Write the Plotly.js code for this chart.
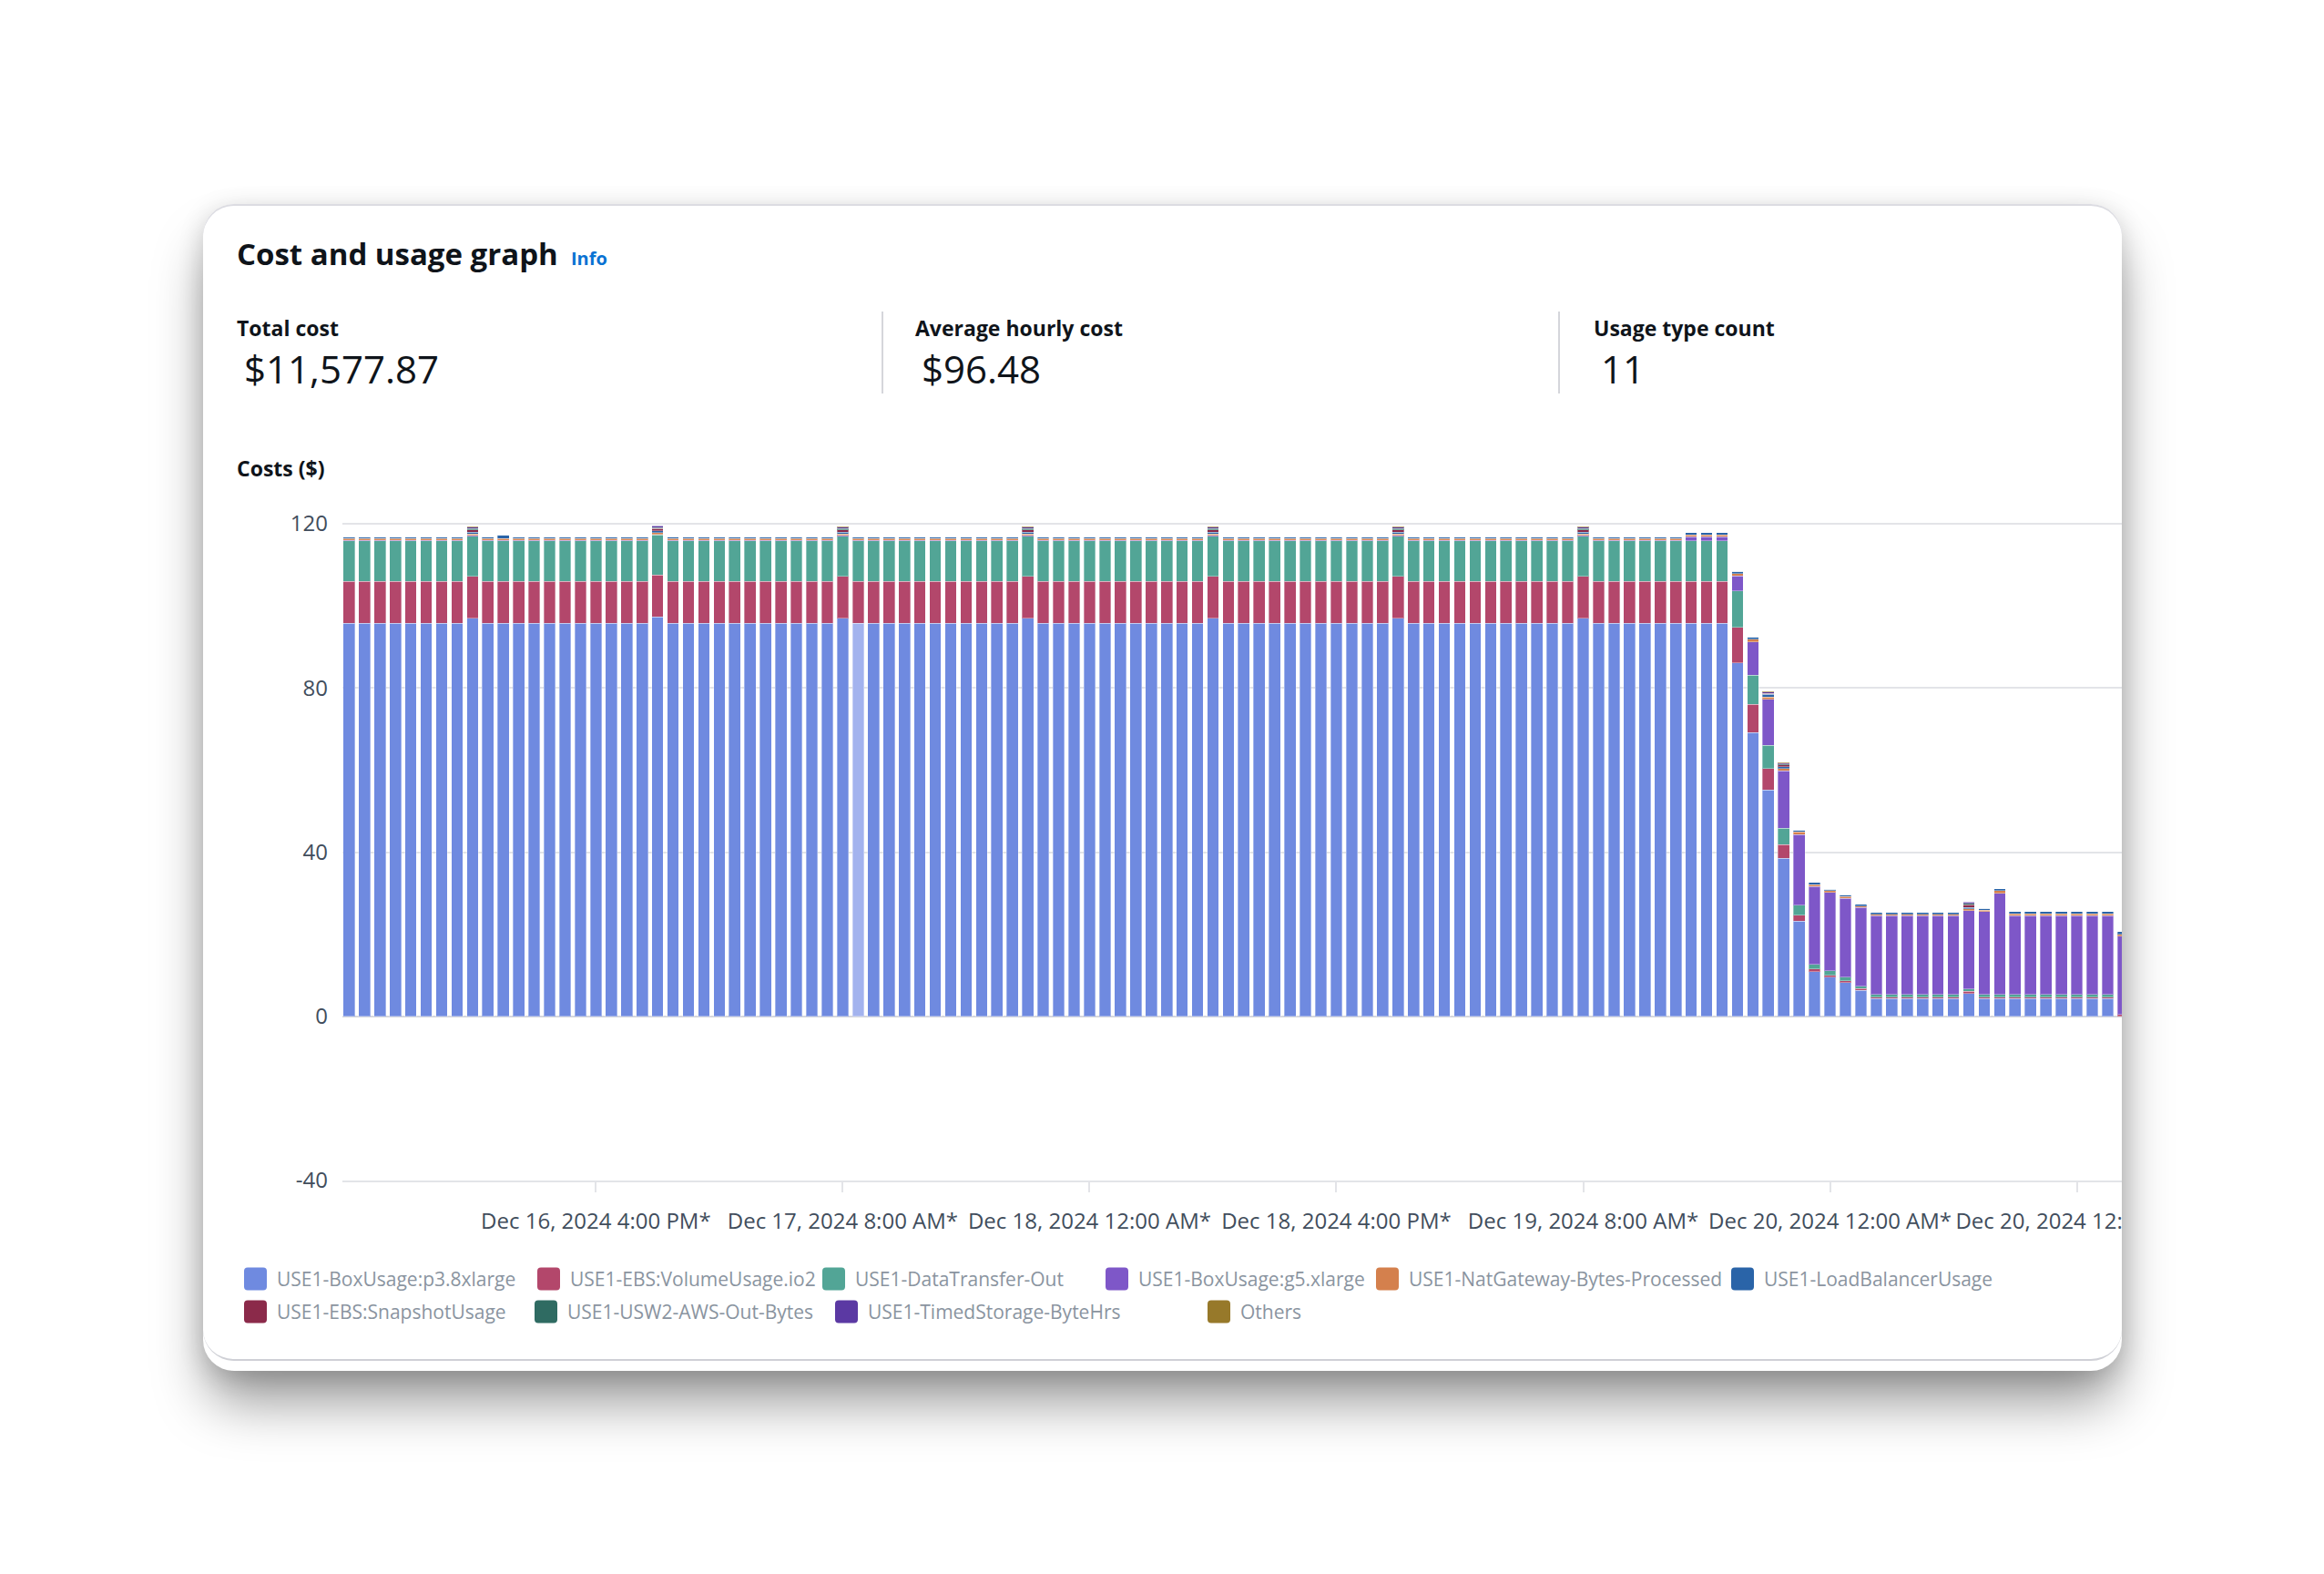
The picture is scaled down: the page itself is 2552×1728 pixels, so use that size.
<!DOCTYPE html>
<html>
<head>
<meta charset="utf-8">
<script src="https://cdn.plot.ly/plotly-3.0.1.min.js"></script>
<style>
html,body{margin:0;padding:0;background:#ffffff;width:2552px;height:1728px;overflow:hidden;font-family:"Open Sans",sans-serif;}
#card{position:absolute;left:223px;top:224px;width:2107px;height:1281px;background:#fff;border-radius:34px;overflow:hidden;
 box-shadow:0 40px 60px -6px rgba(0,0,0,0.40),0 6px 28px rgba(0,0,0,0.16),inset 0 2px 0 #dcdce2;}
#inner{position:absolute;left:0;right:0;top:0;bottom:11px;border-bottom:2px solid #cfd0d6;border-radius:0 0 34px 34px;}
.t{position:absolute;white-space:nowrap;color:#0f141a;line-height:normal;}
.div{position:absolute;top:118px;width:2px;height:90px;background:#d5d6db;}
#chart{position:absolute;left:0;top:0;width:2107px;height:1281px;}
</style>
</head>
<body>
<div id="card">
  <div id="inner"></div>
  <div class="t" style="left:37px;top:31.7px;font-size:33px;font-weight:700;">Cost and usage graph</div>
  <div class="t" style="left:404px;top:45.6px;font-size:20px;font-weight:700;color:#0972d3;">Info</div>
  <div class="t" style="left:37px;top:120.4px;font-size:23px;font-weight:700;">Total cost</div>
  <div class="t" style="left:45px;top:152.1px;font-size:42px;font-weight:400;">$11,577.87</div>
  <div class="div" style="left:745px;"></div>
  <div class="t" style="left:782px;top:120.4px;font-size:23px;font-weight:700;">Average hourly cost</div>
  <div class="t" style="left:789px;top:152.1px;font-size:42px;font-weight:400;">$96.48</div>
  <div class="div" style="left:1488px;"></div>
  <div class="t" style="left:1527px;top:120.4px;font-size:23px;font-weight:700;">Usage type count</div>
  <div class="t" style="left:1535px;top:152.1px;font-size:42px;font-weight:400;">11</div>
  <div class="t" style="left:37px;top:274.4px;font-size:23px;font-weight:700;">Costs ($)</div>
  <div id="chart"></div>
</div>
<script>
// ---------- DATA ----------
const startHour = '2024-12-16T00:00:00';
const hourCount = 116; // hours visible in the picture

const seriesNames = [
  'USE1-BoxUsage:p3.8xlarge',
  'USE1-EBS:VolumeUsage.io2',
  'USE1-DataTransfer-Out',
  'USE1-BoxUsage:g5.xlarge',
  'USE1-NatGateway-Bytes-Processed',
  'USE1-LoadBalancerUsage',
  'USE1-EBS:SnapshotUsage',
  'USE1-USW2-AWS-Out-Bytes',
  'USE1-TimedStorage-ByteHrs',
  'Others'
];
const seriesColors = ['#6f8ae0','#b3476b','#52a596','#7e57c8','#d4804d','#2a64a8','#8b2a4a','#2f6b62','#5b39a3','#97792a'];

const s1 = [
  95.8,95.8,95.8,95.8,95.8,95.8,95.8,95.8,97.0,95.8,95.8,95.8,
  95.8,95.8,95.8,95.8,95.8,95.8,95.8,95.8,97.3,95.8,95.8,95.8,
  95.8,95.8,95.8,95.8,95.8,95.8,95.8,95.8,97.0,95.8,95.8,95.8,
  95.8,95.8,95.8,95.8,95.8,95.8,95.8,95.8,97.0,95.8,95.8,95.8,
  95.8,95.8,95.8,95.8,95.8,95.8,95.8,95.8,97.0,95.8,95.8,95.8,
  95.8,95.8,95.8,95.8,95.8,95.8,95.8,95.8,97.0,95.8,95.8,95.8,
  95.8,95.8,95.8,95.8,95.8,95.8,95.8,95.8,97.0,95.8,95.8,95.8,
  95.8,95.8,95.8,95.8,95.8,95.8,86.1,69.1,55.1,38.5,23.2,10.9,
  9.5,8.2,6.3,4.3,4.3,4.3,4.3,4.3,4.3,5.6,4.3,4.3,
  4.3,4.3,4.3,4.3,4.3,4.3,4.3,0
];
const s2 = [
  10.2,10.2,10.2,10.2,10.2,10.2,10.2,10.2,10.2,10.2,10.2,10.2,
  10.2,10.2,10.2,10.2,10.2,10.2,10.2,10.2,10.2,10.2,10.2,10.2,
  10.2,10.2,10.2,10.2,10.2,10.2,10.2,10.2,10.2,10.2,10.2,10.2,
  10.2,10.2,10.2,10.2,10.2,10.2,10.2,10.2,10.2,10.2,10.2,10.2,
  10.2,10.2,10.2,10.2,10.2,10.2,10.2,10.2,10.2,10.2,10.2,10.2,
  10.2,10.2,10.2,10.2,10.2,10.2,10.2,10.2,10.2,10.2,10.2,10.2,
  10.2,10.2,10.2,10.2,10.2,10.2,10.2,10.2,10.2,10.2,10.2,10.2,
  10.2,10.2,10.2,10.2,10.2,10.2,8.7,6.9,5.3,3.3,1.4,0.6,
  0.5,0.5,0.5,0.4,0.4,0.4,0.4,0.4,0.4,0.5,0.4,0.4,
  0.4,0.4,0.4,0.4,0.4,0.4,0.4,0.4
];
const s3 = [
  9.8,9.8,9.8,9.8,9.8,9.8,9.8,9.8,9.8,9.8,9.8,9.8,
  9.8,9.8,9.8,9.8,9.8,9.8,9.8,9.8,9.8,9.8,9.8,9.8,
  9.8,9.8,9.8,9.8,9.8,9.8,9.8,9.8,9.8,9.8,9.8,9.8,
  9.8,9.8,9.8,9.8,9.8,9.8,9.8,9.8,9.8,9.8,9.8,9.8,
  9.8,9.8,9.8,9.8,9.8,9.8,9.8,9.8,9.8,9.8,9.8,9.8,
  9.8,9.8,9.8,9.8,9.8,9.8,9.8,9.8,9.8,9.8,9.8,9.8,
  9.8,9.8,9.8,9.8,9.8,9.8,9.8,9.8,9.8,9.8,9.8,9.8,
  9.8,9.8,9.8,9.8,9.8,9.8,8.8,7.1,5.6,4.0,2.5,1.1,
  1.1,0.8,0.5,0.6,0.6,0.6,0.6,0.6,0.6,0.6,0.6,0.6,
  0.6,0.6,0.6,0.6,0.6,0.6,0.6,0
];
const s4 = [
  0.15,0.15,0.15,0.15,0.15,0.15,0.15,0.15,0.15,0.15,0.15,0.15,
  0.15,0.15,0.15,0.15,0.15,0.15,0.15,0.15,0.15,0.15,0.15,0.15,
  0.15,0.15,0.15,0.15,0.15,0.15,0.15,0.15,0.15,0.15,0.15,0.15,
  0.15,0.15,0.15,0.15,0.15,0.15,0.15,0.15,0.15,0.15,0.15,0.15,
  0.15,0.15,0.15,0.15,0.15,0.15,0.15,0.15,0.15,0.15,0.15,0.15,
  0.15,0.15,0.15,0.15,0.15,0.15,0.15,0.15,0.15,0.15,0.15,0.15,
  0.15,0.15,0.15,0.15,0.15,0.15,0.15,0.15,0.15,0.15,0.15,0.15,
  0.15,0.15,0.15,1.0,1.0,1.0,3.7,8.1,11.2,14.0,17.2,19.0,
  19.1,19.2,19.2,19.2,19.2,19.2,19.2,19.2,19.2,19.0,20.2,24.7,
  19.2,19.2,19.2,19.2,19.2,19.2,19.2,19.1
];
const s5 = [
  0.4,0.4,0.4,0.4,0.4,0.4,0.4,0.4,0.4,0.4,0.4,0.4,
  0.4,0.4,0.4,0.4,0.4,0.4,0.4,0.4,0.4,0.4,0.4,0.4,
  0.4,0.4,0.4,0.4,0.4,0.4,0.4,0.4,0.4,0.4,0.4,0.4,
  0.4,0.4,0.4,0.4,0.4,0.4,0.4,0.4,0.4,0.4,0.4,0.4,
  0.4,0.4,0.4,0.4,0.4,0.4,0.4,0.4,0.4,0.4,0.4,0.4,
  0.4,0.4,0.4,0.4,0.4,0.4,0.4,0.4,0.4,0.4,0.4,0.4,
  0.4,0.4,0.4,0.4,0.4,0.4,0.4,0.4,0.4,0.4,0.4,0.4,
  0.4,0.4,0.4,0.5,0.5,0.5,0.6,0.7,0.6,0.6,0.6,0.5,
  0.4,0.5,0.4,0.4,0.4,0.4,0.4,0.4,0.4,0.5,0.4,0.6,
  0.5,0.5,0.5,0.5,0.5,0.5,0.5,0.5
];
const s6 = [
  0.35,0.35,0.35,0.35,0.35,0.35,0.35,0.35,0.45,0.5,0.9,0.35,
  0.35,0.35,0.35,0.35,0.35,0.35,0.35,0.35,0.45,0.45,0.35,0.35,
  0.35,0.35,0.35,0.35,0.35,0.35,0.35,0.35,0.45,0.35,0.35,0.35,
  0.35,0.35,0.35,0.35,0.35,0.35,0.35,0.35,0.45,0.35,0.35,0.35,
  0.35,0.35,0.35,0.35,0.35,0.35,0.35,0.35,0.45,0.35,0.35,0.35,
  0.35,0.35,0.35,0.35,0.35,0.35,0.35,0.35,0.45,0.35,0.35,0.35,
  0.35,0.35,0.35,0.35,0.35,0.35,0.35,0.35,0.45,0.35,0.35,0.35,
  0.35,0.35,0.35,0.5,0.5,0.5,0.5,0.5,0.6,0.4,0.5,0.5,
  0.4,0.4,0.4,0.4,0.4,0.4,0.4,0.4,0.4,0.35,0.4,0.5,
  0.5,0.5,0.5,0.5,0.5,0.5,0.5,0.6
];
const s7 = [
  0,0,0,0,0,0,0,0,0.5,0,0,0,
  0,0,0,0,0,0,0,0,0.5,0,0,0,
  0,0,0,0,0,0,0,0,0.5,0,0,0,
  0,0,0,0,0,0,0,0,0.5,0,0,0,
  0,0,0,0,0,0,0,0,0.5,0,0,0,
  0,0,0,0,0,0,0,0,0.5,0,0,0,
  0,0,0,0,0,0,0,0,0.5,0,0,0,
  0,0,0,0,0,0,0,0,0.3,0.5,0,0,
  0,0,0,0,0,0,0,0,0,0.6,0,0,
  0,0,0,0,0,0,0,0
];
const s8 = [
  0,0,0,0,0,0,0,0,0.3,0,0,0,
  0,0,0,0,0,0,0,0,0.3,0,0,0,
  0,0,0,0,0,0,0,0,0.3,0,0,0,
  0,0,0,0,0,0,0,0,0.3,0,0,0,
  0,0,0,0,0,0,0,0,0.3,0,0,0,
  0,0,0,0,0,0,0,0,0.3,0,0,0,
  0,0,0,0,0,0,0,0,0.3,0,0,0,
  0,0,0,0,0,0,0,0,0,0.2,0,0,
  0,0,0,0,0,0,0,0,0,0.35,0,0,
  0,0,0,0,0,0,0,0
];
const s9 = [
  0,0,0,0,0,0,0,0,0.4,0,0,0,
  0,0,0,0,0,0,0,0,0.4,0,0,0,
  0,0,0,0,0,0,0,0,0.4,0,0,0,
  0,0,0,0,0,0,0,0,0.4,0,0,0,
  0,0,0,0,0,0,0,0,0.4,0,0,0,
  0,0,0,0,0,0,0,0,0.4,0,0,0,
  0,0,0,0,0,0,0,0,0.4,0,0,0,
  0,0,0,0,0,0,0,0,0.3,0.2,0,0,
  0,0,0,0,0,0,0,0,0,0.35,0,0,
  0,0,0,0,0,0,0,0
];
const s10 = [
  0,0,0,0,0,0,0,0,0.15,0,0,0,
  0,0,0,0,0,0,0,0,0.15,0,0,0,
  0,0,0,0,0,0,0,0,0.15,0,0,0,
  0,0,0,0,0,0,0,0,0.15,0,0,0,
  0,0,0,0,0,0,0,0,0.15,0,0,0,
  0,0,0,0,0,0,0,0,0.15,0,0,0,
  0,0,0,0,0,0,0,0,0.15,0,0,0,
  0,0,0,0,0,0,0,0,0.1,0.1,0,0,
  0,0,0,0,0,0,0,0,0,0.1,0,0,
  0,0,0,0,0,0,0,0
];
const seriesValues = [s1,s2,s3,s4,s5,s6,s7,s8,s9,s10];

const tickVals = ['2024-12-16 16:00','2024-12-17 08:00','2024-12-18 00:00','2024-12-18 16:00','2024-12-19 08:00','2024-12-20 00:00','2024-12-20 16:00'];
const tickText = ['Dec 16, 2024 4:00 PM*','Dec 17, 2024 8:00 AM*','Dec 18, 2024 12:00 AM*','Dec 18, 2024 4:00 PM*','Dec 19, 2024 8:00 AM*','Dec 20, 2024 12:00 AM*','Dec 20, 2024 12:00 PM*'];
const yTicks = [-40, 0, 40, 80, 120];
const highlightedHour = 33; // hovered bar (lighter segment)

// ---------- BUILD ----------
function pad(n){return (n<10?'0':'')+n;}
const hours = [];
const t0 = new Date(startHour + 'Z').getTime();
for (let i = 0; i < hourCount; i++) {
  const d = new Date(t0 + i*3600000);
  hours.push(d.getUTCFullYear()+'-'+pad(d.getUTCMonth()+1)+'-'+pad(d.getUTCDate())+' '+pad(d.getUTCHours())+':00');
}

const traces = seriesValues.map((vals, k) => {
  let color = seriesColors[k];
  if (k === 0) color = hours.map((h, i) => i === highlightedHour ? '#a3b3ee' : seriesColors[0]);
  return {
    type: 'bar', name: seriesNames[k], x: hours, y: vals,
    width: 0.75*3600000,
    marker: {color: color, line: {color: 'rgba(255,255,255,0.35)', width: 1}},
    hoverinfo: 'skip'
  };
});

// plot area in card pixels
const PL = 153, PW = 1954, PT = 349, PB = 1072;
const PH = PB - PT;
const px2x = x => (x - PL)/PW;
const px2y = y => (PB - y)/PH;

// legend layout (card pixels)
const legendLeft = [45, 367, 680, 991, 1288, 1678, 45, 364, 694, 1103];
const legendRowY = [1180, 1180, 1180, 1180, 1180, 1180, 1216, 1216, 1216, 1216];
const sw = 12.5, r = 4;
const swPath = `M ${-sw},${-sw+r} L ${-sw},${sw-r} Q ${-sw},${sw} ${-sw+r},${sw} L ${sw-r},${sw} Q ${sw},${sw} ${sw},${sw-r} L ${sw},${-sw+r} Q ${sw},${-sw} ${sw-r},${-sw} L ${-sw+r},${-sw} Q ${-sw},${-sw} ${-sw},${-sw+r} Z`;
const shapes = [], annotations = [];
seriesNames.forEach((n, k) => {
  shapes.push({type:'path', xref:'paper', yref:'paper', xsizemode:'pixel', ysizemode:'pixel',
    xanchor: px2x(legendLeft[k] + sw), yanchor: px2y(legendRowY[k]), path: swPath,
    fillcolor: seriesColors[k], line: {width: 0}});
  annotations.push({xref:'paper', yref:'paper', x: px2x(legendLeft[k] + 34), y: px2y(legendRowY[k]),
    xanchor:'left', yanchor:'middle', showarrow:false, text: n,
    font: {size: 21, color: '#8a94a0', family: '"Open Sans", sans-serif'}});
});

const layout = {
  width: 2107, height: 1281,
  margin: {l: PL, r: 0, t: PT, b: 1281 - PB, pad: 0},
  paper_bgcolor: 'rgba(0,0,0,0)', plot_bgcolor: 'rgba(0,0,0,0)',
  barmode: 'stack', showlegend: false,
  font: {family: '"Open Sans", sans-serif', size: 24, color: '#414d5c'},
  xaxis: {type: 'date', range: ['2024-12-15 23:34:00', '2024-12-20 18:55:00'],
    tickmode: 'array', tickvals: tickVals, ticktext: tickText, tickangle: 0,
    ticks: 'outside', ticklen: 11, tickwidth: 2, tickcolor: '#e3e4e8',
    showline: true, linecolor: '#e3e4e8', linewidth: 2, showgrid: false, zeroline: false,
    ticklabelstandoff: 11, ticklabeloverflow: 'allow', tickfont: {size: 24, color: '#414d5c'}, fixedrange: true},
  yaxis: {range: [-40, 120.45], tickmode: 'array', tickvals: yTicks, ticktext: yTicks.map(String),
    showgrid: true, gridcolor: '#e3e4e8', gridwidth: 2,
    zeroline: true, zerolinecolor: '#d6d7dc', zerolinewidth: 2, showline: false, ticks: '',
    ticklabelstandoff: 15, tickfont: {size: 24, color: '#414d5c'}, fixedrange: true},
  shapes: shapes, annotations: annotations
};

Plotly.newPlot('chart', traces, layout, {displayModeBar: false, staticPlot: true});
</script>
</body>
</html>
